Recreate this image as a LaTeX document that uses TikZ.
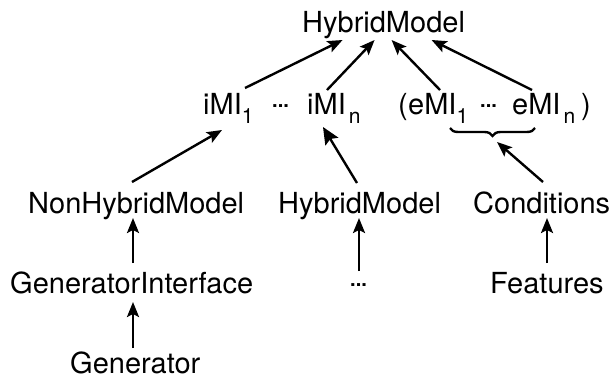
\documentclass[tikz,border=0pt]{standalone}
\usepackage{fontspec}
\setmainfont{TeX Gyre Heros}
\usetikzlibrary{arrows.meta, decorations.pathreplacing}
\newcommand{\lowsub}[1]{\raisebox{-9pt}{\fontsize{21}{21}\selectfont #1}}
\newcommand{\middots}{\raisebox{7pt}{\fontsize{20}{20}\selectfont\bfseries ...}}

\begin{document}
\begin{tikzpicture}[x=1pt, y=-1pt,
    every node/.style={inner sep=0, anchor=base west, font=\fontsize{29}{34}\selectfont},
    link/.style={line width=2.4pt, -{Stealth[length=15pt, width=12pt, inset=3pt]}}]
  \useasboundingbox (0, 0) rectangle (612, 383);

  \node (top) at (302, 32) {HybridModel};

  \node (im1) at (203, 114) {iMI\lowsub{1}};
  \node (idots) at (272, 114) {\middots};
  \node (imn) at (307, 114) {iMI\hspace{3pt}\lowsub{n}};
  \node (lpar) at (398, 114) {(};
  \node (em1) at (408, 114) {eMI\lowsub{1}};
  \node (edots) at (480, 114) {\middots};
  \node (emn) at (512, 114) {eMI\hspace{3pt}\lowsub{n}};
  \node (rpar) at (581, 114) {)};

  \node (nhm) at (28, 213) {NonHybridModel};
  \node (hm) at (278, 213) {HybridModel};
  \node (cond) at (473, 213) {Conditions};

  \node (gi) at (10, 293) {GeneratorInterface};
  \node (more) at (350, 293) {\middots};
  \node (feat) at (490, 293) {Features};

  \node (gen) at (70, 373) {Generator};

  % brace over the eMI's
  \draw [line width=2.4pt, decorate, decoration={brace, mirror, amplitude=8pt}]
    ([shift={(42, 14)}]em1.base west) -- ([shift={(23, 14)}]emn.base west);
  \coordinate (brtip) at ([shift={(89, 28)}]em1.base west);

  \draw [link] ([shift={(42, -26)}]im1.base west) -- ([shift={(-41, 8)}]top.base);
  \draw [link] ([shift={(20, -24)}]imn.base west) -- ([shift={(-9, 8)}]top.base);
  \draw [link] ([shift={(32, -24)}]em1.base west) -- ([shift={(8, 8)}]top.base);
  \draw [link] ([shift={(20, -24)}]emn.base west) -- ([shift={(48, 8)}]top.base);

  \draw [link] ([shift={(104, -31)}]nhm.base west) -- ([shift={(19, 16)}]im1.base west);
  \draw [link, -{Stealth[length=17pt, width=15pt, inset=3pt]}] ([shift={(79, -30)}]hm.base west) -- ([shift={(16, 13)}]imn.base west);
  \draw [link] ([shift={(70, -31)}]cond.base west) -- (brtip);

  \draw [link] ([shift={(123, -30)}]gi.base west) -- ([shift={(105, 5)}]nhm.base west);
  \draw [link] ([shift={(9, -22)}]more.base west) -- ([shift={(81, 5)}]hm.base west);
  \draw [link] ([shift={(57, -30)}]feat.base west) -- ([shift={(74, 5)}]cond.base west);
  \draw [link] ([shift={(63, -25)}]gen.base west) -- ([shift={(123, 9)}]gi.base west);
\end{tikzpicture}
\end{document}
